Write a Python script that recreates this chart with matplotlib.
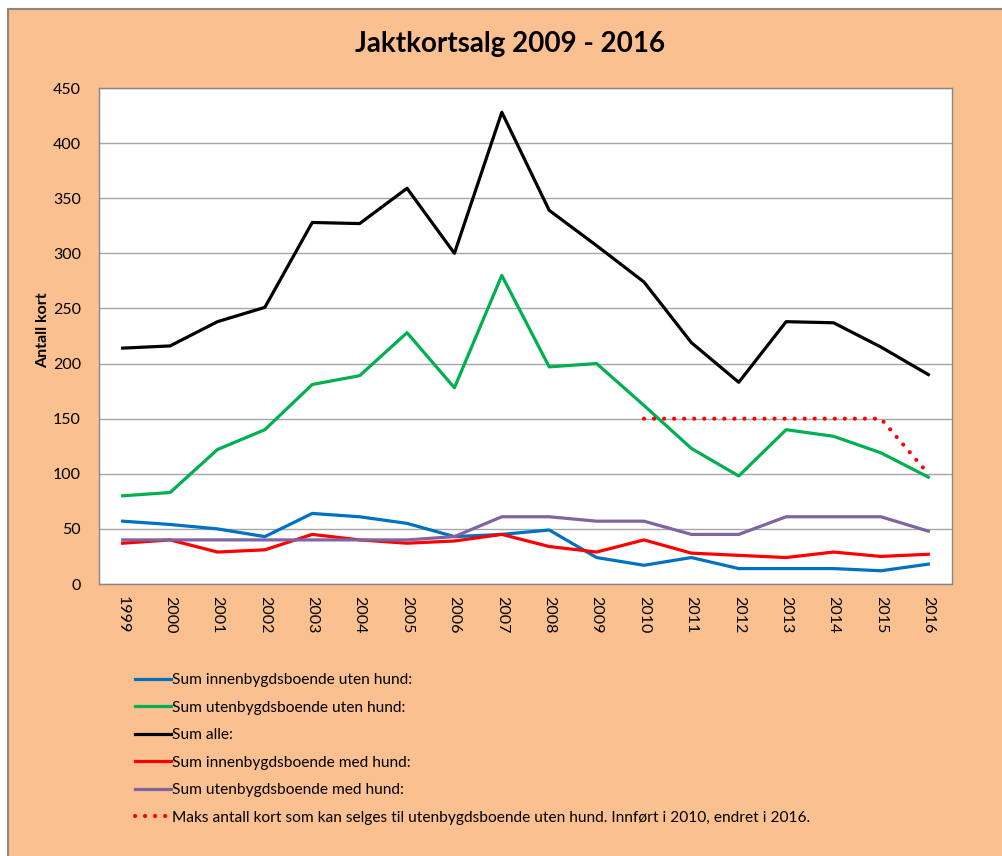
import matplotlib
matplotlib.use("Agg")
import matplotlib.pyplot as plt
from matplotlib.patches import Rectangle

# -------------------------
# Data
# -------------------------
years = ["1999", "2000", "2001", "2002", "2003", "2004", "2005", "2006", "2007",
         "2008", "2009", "2010", "2011", "2012", "2013", "2014", "2015", "2016"]

innen_uten = [57, 54, 50, 43, 64, 61, 55, 43, 45, 49, 24, 17, 24, 14, 14, 14, 12, 18]
uten_uten = [80, 83, 122, 140, 181, 189, 228, 178, 280, 197, 200, 162, 123, 98, 140, 134, 119, 97]
sum_alle = [214, 216, 238, 251, 328, 327, 359, 300, 428, 339, 307, 274, 219, 183, 238, 237, 215, 190]
innen_med = [37, 40, 29, 31, 45, 40, 37, 39, 45, 34, 29, 40, 28, 26, 24, 29, 25, 27]
uten_med = [40, 40, 40, 40, 40, 40, 40, 43, 61, 61, 57, 57, 45, 45, 61, 61, 61, 48]
maks_years = ["2010", "2011", "2012", "2013", "2014", "2015", "2016"]
maks = [150, 150, 150, 150, 150, 150, 100]

labels = ["Sum innenbygdsboende uten hund:",
          "Sum utenbygdsboende uten hund:",
          "Sum alle:",
          "Sum innenbygdsboende med hund:",
          "Sum utenbygdsboende med hund:",
          "Maks antall kort som kan selges til utenbygdsboende uten hund. Innført i 2010, endret i 2016."]

plt.rcParams['font.family'] = ['Lato', 'DejaVu Sans']

W, H = 1002, 856
fig = plt.figure(figsize=(W / 100, H / 100), dpi=100, facecolor="white")

# orange chart area with grey border on top/left
bg = Rectangle((7.5 / W, -0.1), 1.2, 1.1 - 8.5 / H, transform=fig.transFigure,
               facecolor="#FAC090", edgecolor="#888888", linewidth=1.5, zorder=-10)
fig.patches.append(bg)

ax = fig.add_axes([99 / W, 1 - 584 / H, (952 - 99) / W, (584 - 88) / H])
ax.set_facecolor("white")

x = list(range(len(years)))
xm = [years.index(y) for y in maks_years]
lw = 2.3
h1, = ax.plot(x, innen_uten, color="#0070C0", lw=lw)
h2, = ax.plot(x, uten_uten, color="#00B050", lw=lw)
h3, = ax.plot(x, sum_alle, color="black", lw=lw)
h4, = ax.plot(x, innen_med, color="#FF0000", lw=lw)
h5, = ax.plot(x, uten_med, color="#8064A2", lw=lw)
h6, = ax.plot(xm, maks, color="#FF0000", lw=3, linestyle=(0, (0.01, 2.4)),
              dash_capstyle="round")

ax.set_xlim(-0.5, len(years) - 0.5)
ax.set_ylim(0, 450)
ax.set_yticks(range(0, 451, 50))
ax.set_xticks(x)
ax.set_xticklabels(years, rotation=-90, fontsize=11.5)
ax.tick_params(axis="y", length=0, pad=13, labelsize=11.5)
ax.tick_params(axis="x", length=0, pad=9)
ax.grid(axis="y", color="#A6A6A6", linewidth=1)
ax.set_axisbelow(True)
for s in ax.spines.values():
    s.set_color("#888888")
    s.set_linewidth(1)

fig.text(43 / W, 1 - 330 / H, "Antall kort", rotation=90, ha="center", va="center",
         fontsize=11.5, fontweight="bold")
fig.text(510 / W, 1 - 44 / H, "Jaktkortsalg 2009 - 2016", ha="center", va="center",
         fontsize=20, fontweight="bold")

fig.legend([h1, h2, h3, h4, h5, h6], labels, loc="upper left",
           bbox_to_anchor=(135 / W, 1 - 673 / H), frameon=False, fontsize=11.2,
           handlelength=2.3, handletextpad=0.1, labelspacing=0.87,
           borderpad=0, borderaxespad=0)

fig.savefig("out.png", dpi=100, facecolor=fig.get_facecolor())
